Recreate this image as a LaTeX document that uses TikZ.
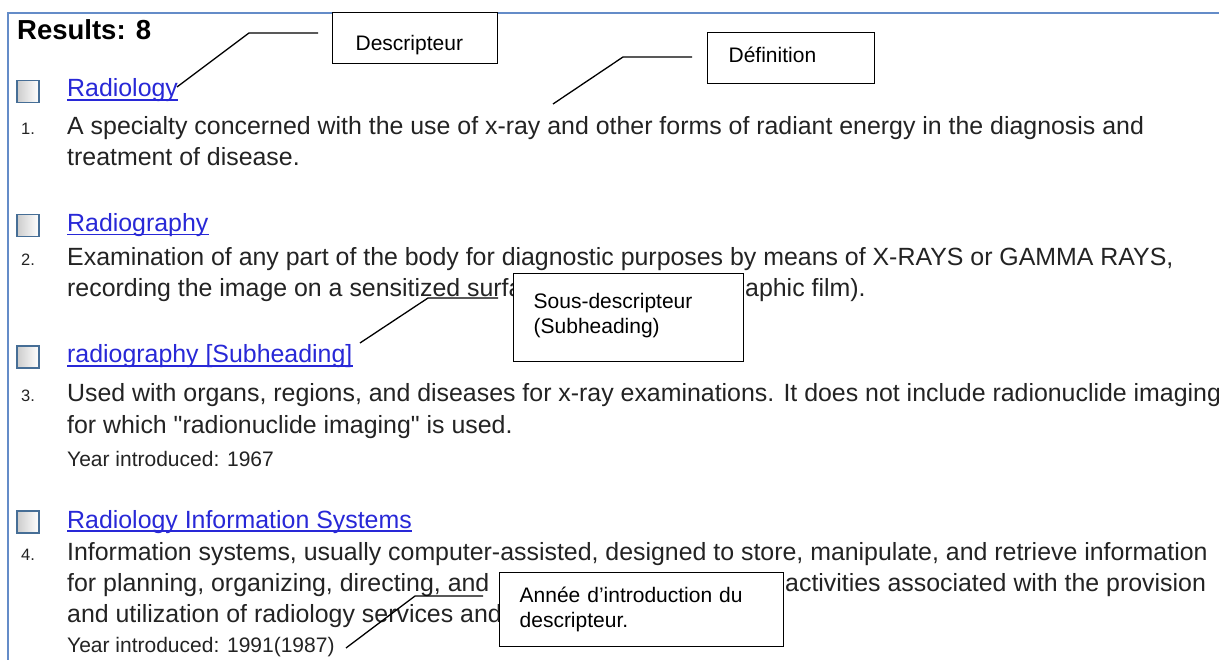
\documentclass[tikz,border=0pt]{standalone}
\usepackage{fontspec}
\setmainfont{Liberation Sans}[Ligatures=TeXOff]
\definecolor{framec}{RGB}{100,140,200}
\definecolor{linkc}{RGB}{40,40,215}
\definecolor{txt}{RGB}{35,35,35}
\definecolor{cbd}{RGB}{70,110,150}
\tikzset{
  body/.style={anchor=base west, inner sep=0pt, text=txt, font=\fontsize{24.9}{30}\selectfont},
  num/.style={anchor=base west, inner sep=0pt, text=txt, font=\fontsize{16.5}{20}\selectfont},
  yearline/.style={anchor=base west, inner sep=0pt, text=txt, font=\fontsize{21}{25}\selectfont},
  linktext/.style={anchor=base west, inner sep=0pt, text=linkc, font=\fontsize{24.9}{30}\selectfont},
  chk/.style={draw=cbd, line width=1.5pt, minimum size=22pt, inner sep=0pt, left color=black!20, right color=white},
  callout/.style={draw=black, line width=1.3pt, fill=white, anchor=north west, inner ysep=0pt, align=left, text=black, font=\fontsize{21}{24.5}\selectfont},
  leader/.style={draw=black, line width=1.3pt},
  uline/.style={draw=linkc, line width=1.3pt}
}
\begin{document}
\begin{tikzpicture}[x=1pt, y=-1pt]
\useasboundingbox (0,0) rectangle (1219,660);
\fill[white] (0,0) rectangle (1219,660);
% frame
\draw[framec, line width=2.5pt] (8,662) -- (8,13) -- (1221,13);
% title
\node[anchor=base west, inner sep=0pt, text=black, font=\fontsize{27.5}{30}\selectfont\bfseries] (res) at (17,40) {Results: 8};

% entry 1
\node[chk] (cb1) at (28,91.5) {};
\node[linktext] (l1) at (67,97) {Radiology};
\draw[uline] ([yshift=-3pt]l1.base west) -- ([yshift=-3pt]l1.base east);
\node[num] (n1) at (21,135) {1.};
\node[body] (t1a) at (67,135) {A specialty concerned with the use of x-ray and other forms of radiant energy in the diagnosis and};
\node[body] (t1b) at (67,166) {treatment of disease.};

% entry 2
\node[chk] (cb2) at (28,225.5) {};
\node[linktext] (l2) at (67,231.5) {Radiography};
\draw[uline] ([yshift=-3pt]l2.base west) -- ([yshift=-3pt]l2.base east);
\node[num] (n2) at (21,265.5) {2.};
\node[body] (t2a) at (67,265.5) {Examination of any part of the body for diagnostic purposes by means of X-RAYS or GAMMA RAYS,};
\node[body] (t2b) at (67,296.5) {recording the image on a sensitized surfa};
\node[body] (t2c) at (745,296.5) {aphic film).};

% entry 3
\node[chk] (cb3) at (28,357) {};
\node[linktext] (l3) at (67,363) {radiography [Subheading]};
\draw[uline] ([yshift=-3pt]l3.base west) -- ([yshift=-3pt]l3.base east);
\node[num] (n3) at (21,402) {3.};
\node[body] (t3a) at (67,402) {Used with organs, regions, and diseases for x-ray examinations. It does not include radionuclide imaging};
\node[body] (t3b) at (67,433) {for which "radionuclide imaging" is used.};
\node[yearline] (y3) at (67,466) {Year introduced: 1967};

% entry 4
\node[chk] (cb4) at (28,522) {};
\node[linktext] (l4) at (67,528) {Radiology Information Systems};
\draw[uline] ([yshift=-3pt]l4.base west) -- ([yshift=-3pt]l4.base east);
\node[num] (n4) at (21,560) {4.};
\node[body] (t4a) at (67,560) {Information systems, usually computer-assisted, designed to store, manipulate, and retrieve information};
\node[body] (t4b) at (67,591) {for planning, organizing, directing, and};
\node[body] (t4c) at (785,591) {activities associated with the provision};
\node[body] (t4d) at (67,622) {and utilization of radiology services and};
\node[yearline] (y4) at (67,652) {Year introduced: 1991(1987)};

% leaders
\coordinate (dA) at (318,33); \coordinate (dB) at (249,33); \coordinate (dE) at (177,87);
\coordinate (fA) at (692,57); \coordinate (fB) at (623,57); \coordinate (fE) at (553,104);
\coordinate (sA) at (498,298); \coordinate (sB) at (428,298); \coordinate (sE) at (360,343);
\coordinate (aA) at (483,596); \coordinate (aB) at (415,596); \coordinate (aE) at (346,648);
\draw[leader] (dA) -- (dB) -- (dE);
\draw[leader] (fA) -- (fB) -- (fE);
\draw[leader] (sA) -- (sB) -- (sE);
\draw[leader] (aA) -- (aB) -- (aE);

% callouts
\node[callout, inner xsep=23pt, text width=119pt, text height=38pt, text depth=13pt] (desc) at (332,12) {Descripteur};
\node[callout, inner xsep=21pt, text width=125pt, text height=30pt, text depth=21pt] (defi) at (707,32) {Définition};
\node[callout, inner xsep=20pt, text width=190pt, text height=35pt, text depth=53pt] (sous) at (513,273) {Sous-descripteur\\(Subheading)};
\node[callout, inner xsep=20pt, text width=244pt, text height=30pt, text depth=44pt] (annee) at (499,572) {Année d’introduction du\\descripteur.};
\end{tikzpicture}
\end{document}
